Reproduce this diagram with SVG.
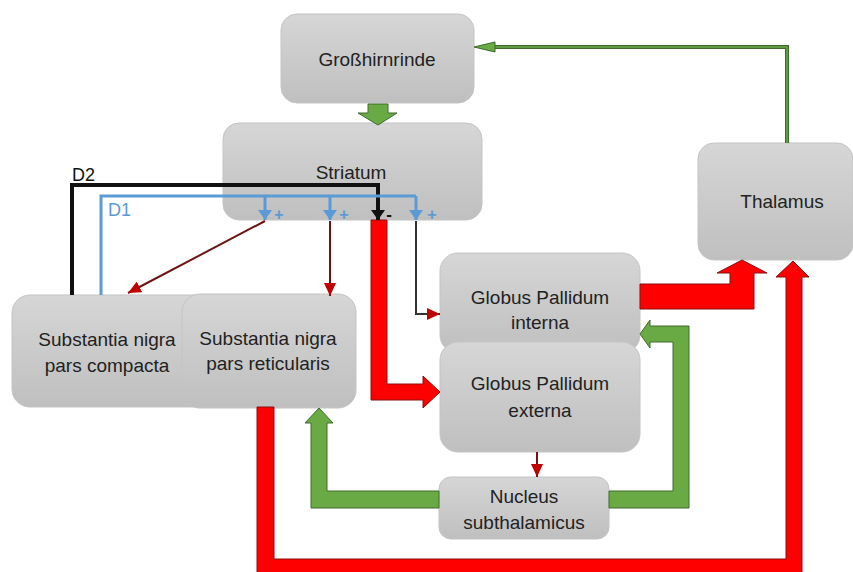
<svg xmlns="http://www.w3.org/2000/svg" width="853" height="572" viewBox="0 0 853 572">
<style>
.box{fill:url(#g);stroke:#c4c4c4;stroke-width:1}
.t{font-family:"Liberation Sans",Arial,sans-serif;font-size:19px;fill:#222;text-anchor:middle}
.red{fill:#ff0000;stroke:#8a1010;stroke-width:1}
.grn{fill:#6aaa45;stroke:#3f6a2c;stroke-width:1}
.thin{fill:none;stroke:#6b1515;stroke-width:2}
.blue{fill:none;stroke:#5b9bd5;stroke-width:3}
.blk{fill:none;stroke:#111;stroke-width:4}
.sgn{font-family:"Liberation Sans",Arial,sans-serif;font-weight:bold}
</style>
<defs>
<linearGradient id="g" x1="0" y1="0" x2="0" y2="1">
<stop offset="0" stop-color="#d6d6d6"/>
<stop offset="1" stop-color="#bfbfbf"/>
</linearGradient>
<marker id="rh" markerUnits="userSpaceOnUse" markerWidth="14" markerHeight="12" refX="13" refY="6" orient="auto">
<path d="M0,0 L13,6 L0,12 Z" fill="#c00000"/>
</marker>
<marker id="bh" markerUnits="userSpaceOnUse" markerWidth="14" markerHeight="14" refX="10" refY="7" orient="auto">
<path d="M0,0 L10,7 L0,14 Z" fill="#5b9bd5"/>
</marker>
<marker id="kh" markerUnits="userSpaceOnUse" markerWidth="14" markerHeight="14" refX="10" refY="7" orient="auto">
<path d="M0,0 L10,7 L0,14 Z" fill="#111"/>
</marker>
</defs>

<g id="nodes">
<g id="grosshirnrinde"><rect class="box" x="281" y="14" width="193" height="89" rx="16"/><text class="t" x="377" y="66">Großhirnrinde</text></g>
<g id="striatum"><rect class="box" x="223" y="123" width="259" height="97" rx="16"/><text class="t" x="351" y="179">Striatum</text></g>
<g id="thalamus"><rect class="box" x="698" y="143" width="155" height="117" rx="16"/><text class="t" x="782" y="208">Thalamus</text></g>
<g id="snc"><rect class="box" x="12" y="295" width="200" height="112" rx="18"/><text class="t" x="107" y="346">Substantia nigra</text><text class="t" x="107" y="372">pars compacta</text></g>
<g id="snr"><rect class="box" x="182" y="294" width="174" height="114" rx="18"/><text class="t" x="268" y="345">Substantia nigra</text><text class="t" x="268" y="370">pars reticularis</text></g>
<g id="gpi"><rect class="box" x="440" y="253" width="200" height="100" rx="18"/><text class="t" x="540" y="304">Globus Pallidum</text><text class="t" x="540" y="329">interna</text></g>
<g id="gpe"><rect class="box" x="440" y="342" width="200" height="110" rx="18"/><text class="t" x="540" y="390">Globus Pallidum</text><text class="t" x="540" y="417">externa</text></g>
<g id="nucleus"><rect class="box" x="439" y="477" width="170" height="62" rx="12"/><text class="t" x="524" y="503">Nucleus</text><text class="t" x="524" y="529">subthalamicus</text></g>
</g>

<g id="connectors">
<polygon class="grn" points="368,104 388,104 388,113 397,113 378,125 358,113 368,113"/>
<polyline points="787,143 787,47 495,47" fill="none" stroke="#3f6a2c" stroke-width="4"/>
<polyline points="787,143 787,47 495,47" fill="none" stroke="#6aaa45" stroke-width="1.5"/>
<polygon points="474,47 495,42 495,52" fill="#6aaa45" stroke="#3f6a2c" stroke-width="1"/>
<polygon class="red" points="371,220 387,220 387,384 423,384 423,376 440,392 423,408 423,400 371,400"/>
<polygon class="red" points="640,284 730,284 730,273 717,273 742,260 767,273 754,273 754,309 640,309"/>
<polygon class="red" points="257,407 274,407 274,559 786,559 786,277 776,277 793,261 809,277 802,277 802,580 257,580"/>
<polygon class="grn" points="439,491 327,491 327,423 333,423 319,408 305,423 311,423 311,508 439,508"/>
<polygon class="grn" points="609,491 673,491 673,342 650,342 650,348 640,334 650,320 650,326 689,326 689,508 609,508"/>
<line class="thin" x1="537" y1="452" x2="537" y2="477" marker-end="url(#rh)"/>
<line class="thin" x1="265" y1="221" x2="128" y2="293" marker-end="url(#rh)"/>
<line class="thin" x1="330" y1="221" x2="330" y2="296" marker-end="url(#rh)"/>
<polyline points="416,221 416,314 440,314" fill="none" stroke="#333" stroke-width="2" marker-end="url(#rh)"/>
<polyline class="blk" points="72,295 72,185 378,185 378,220" marker-end="url(#kh)"/>
<polyline class="blue" points="101,295 101,196 416,196"/>
<line class="blue" x1="265" y1="196" x2="265" y2="220" marker-end="url(#bh)"/>
<line class="blue" x1="330" y1="196" x2="330" y2="220" marker-end="url(#bh)"/>
<line class="blue" x1="416" y1="196" x2="416" y2="220" marker-end="url(#bh)"/>
<text class="sgn" x="279" y="220" font-size="16" fill="#5b9bd5" text-anchor="middle">+</text>
<text class="sgn" x="344" y="220" font-size="16" fill="#5b9bd5" text-anchor="middle">+</text>
<text class="sgn" x="432" y="220" font-size="16" fill="#5b9bd5" text-anchor="middle">+</text>
<text class="sgn" x="389" y="220" font-size="17" fill="#111" text-anchor="middle">-</text>
<text x="72" y="181" font-family="Liberation Sans, Arial, sans-serif" font-size="18" fill="#111">D2</text>
<text x="108" y="216" font-family="Liberation Sans, Arial, sans-serif" font-size="18" fill="#5b9bd5">D1</text>
</g>
</svg>
